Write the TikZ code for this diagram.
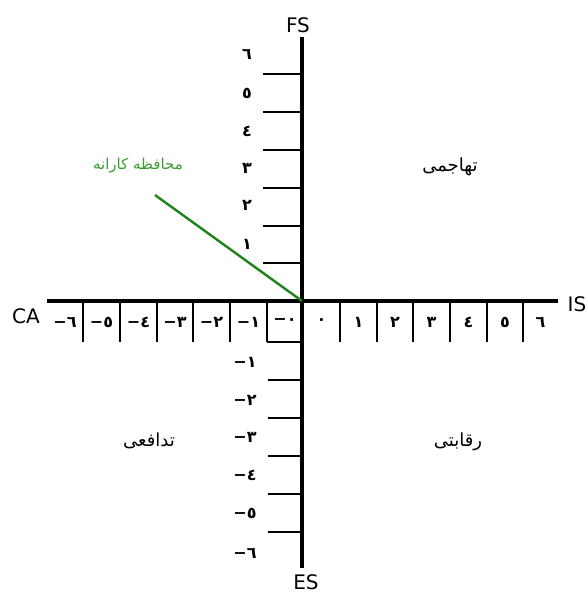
\documentclass[tikz,border=0pt]{standalone}
\usepackage{fontspec}
\setmainfont{DejaVu Sans}
\newfontfamily\arabicfont[Script=Arabic]{DejaVu Sans}
\newfontfamily\digitfont{DejaVu Sans}
\TeXXeTstate=1
\definecolor{linegreen}{RGB}{30,130,25}
\definecolor{textgreen}{RGB}{60,155,50}
\begin{document}
\begin{tikzpicture}[x=1pt,y=-1pt,
  axis/.style={line width=3.6pt},
  tickline/.style={line width=1.1pt},
  axlabel/.style={font=\fontsize{20}{22}\selectfont, inner sep=0pt},
  numlabel/.style={font=\digitfont\bfseries\fontsize{16}{17}\selectfont, inner sep=0pt},
  quadlabel/.style={font=\arabicfont\fontsize{18}{20}\selectfont, inner sep=0pt}]
\useasboundingbox (0,0) rectangle (588,594);
% axis end points
\coordinate (top) at (302,37);
\coordinate (bottom) at (302,568);
\coordinate (left) at (47,301);
\coordinate (right) at (558,301);
\coordinate (origin) at (302,301);
\coordinate (gend) at (155,195);
% axis labels
\node[axlabel] (FS) at (298,25) {FS};
\node[axlabel] (ES) at (306,582) {ES};
\node[axlabel] (CA) at (26,316) {CA};
\node[axlabel] (IS) at (577,304) {IS};
% horizontal ticks
\foreach \x in {83,120,157,193,230,267,340,377,413,450,487,523}
  \draw[tickline] (\x,301) -- (\x,342);
\draw[tickline] (267,342) -- (302,342);
% vertical ticks
\foreach \y in {263,226,188,150,112,74}
  \draw[tickline] (263,\y) -- (302,\y);
\foreach \y in {380,418,456,494,532}
  \draw[tickline] (268,\y) -- (302,\y);
% axes
\draw[axis] (left) -- (right);
\draw[axis] (top) -- (bottom);
% green line
\draw[line width=2.4pt, linegreen] (origin) -- (gend);
% horizontal labels
\foreach \x/\t [count=\i] in {65/−٦,101.5/−٥,138.5/−٤,175/−٣,211.5/−٢,248.5/−١,285/−٠,
   321.5/٠,358.5/١,395/٢,431.5/٣,468.5/٤,505/٥,540.5/٦}
  \node[numlabel] (h\i) at (\x,322) {\t};
% vertical labels
\foreach \y/\t [count=\i] in {244/١,205/٢,168/٣,131/٤,93/٥,54/٦}
  \node[numlabel] (vu\i) at (247,\y) {\t};
\foreach \y/\t [count=\i] in {362/−١,400/−٢,437/−٣,475/−٤,513/−٥,553/−٦}
  \node[numlabel] (vd\i) at (245,\y) {\t};
% quadrant labels
\node[quadlabel] (q1) at (450,167) {\beginR تهاجمی\endR};
\node[quadlabel, text=textgreen, font=\arabicfont\fontsize{15}{17}\selectfont] (q2) at (138,166) {\beginR محافظه کارانه\endR};
\node[quadlabel] (q3) at (149,441) {\beginR تدافعی\endR};
\node[quadlabel] (q4) at (458,442) {\beginR رقابتی\endR};
\end{tikzpicture}
\end{document}
